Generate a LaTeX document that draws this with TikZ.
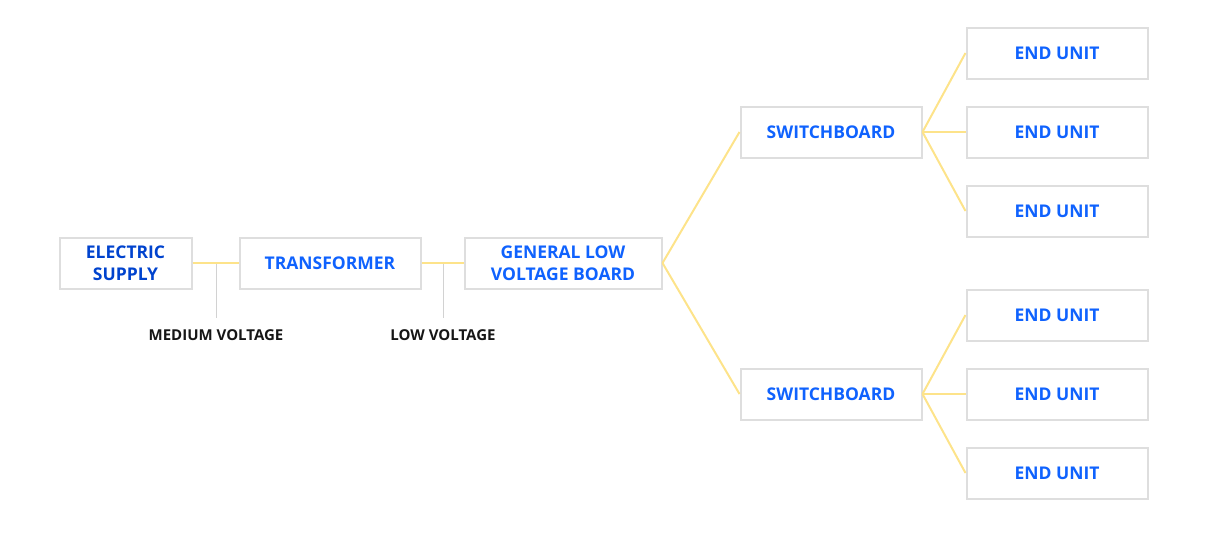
\documentclass[tikz,border=0pt]{standalone}
\usepackage{fontspec}
\setmainfont{Open Sans}
\definecolor{plexblue}{HTML}{0F62FE}
\definecolor{deepblue}{HTML}{0043CE}
\definecolor{wireyellow}{HTML}{FDE38A}
\definecolor{boxgray}{HTML}{DEDEDE}
\definecolor{tickgray}{HTML}{D2D2D2}
\definecolor{inkblack}{HTML}{161616}

\tikzset{
  unit/.style={draw=boxgray, line width=2pt, fill=white, minimum height=51pt,
    minimum width=181pt, inner sep=0pt, align=center, text=plexblue,
    font=\bfseries\fontsize{17.5}{22}\selectfont},
  wire/.style={draw=wireyellow, line width=2pt},
  tick/.style={draw=tickgray, line width=1pt},
  tag/.style={text=inkblack, font=\bfseries\fontsize{15}{18}\selectfont}
}

\begin{document}
\begin{tikzpicture}[x=1pt,y=-1pt]
        \useasboundingbox (0,0) rectangle (1208,547);

        % main chain
        \node[unit, minimum width=132pt, text=deepblue] (supply) at (125.5,263) {ELECTRIC\\SUPPLY};
        \node[unit] (trafo) at (330,263) {TRANSFORMER};
        \node[unit, minimum width=197pt] (glvb) at (563,263) {GENERAL LOW\\VOLTAGE BOARD};

        % switchboards
        \node[unit] (swA) at (831,132) {SWITCHBOARD};
        \node[unit] (swB) at (831,394) {SWITCHBOARD};

        % end units
        \foreach \i/\y in {1/53, 2/132, 3/211} {
            \node[unit] (endA\i) at (1057,\y) {END UNIT};
        }
        \foreach \i/\y in {1/315, 2/394, 3/473} {
            \node[unit] (endB\i) at (1057,\y) {END UNIT};
        }

        % voltage taps
        \coordinate (mvtap) at (216,263);
        \coordinate (lvtap) at (443,263);
        \draw[tick] (mvtap) -- ++(0,55);
        \draw[tick] (lvtap) -- ++(0,55);
        \node[tag] (mvlabel) at (216,335) {MEDIUM VOLTAGE};
        \node[tag] (lvlabel) at (443,335) {LOW VOLTAGE};

        % wiring
        \draw[wire] (supply.east) -- (trafo.west);
        \draw[wire] (trafo.east) -- (glvb.west);
        \draw[wire] (glvb.east) -- (swA.west);
        \draw[wire] (glvb.east) -- (swB.west);
        \foreach \i in {1,2,3} {
            \draw[wire] (swA.east) -- (endA\i.west);
            \draw[wire] (swB.east) -- (endB\i.west);
        }
    \end{tikzpicture}
\end{document}
